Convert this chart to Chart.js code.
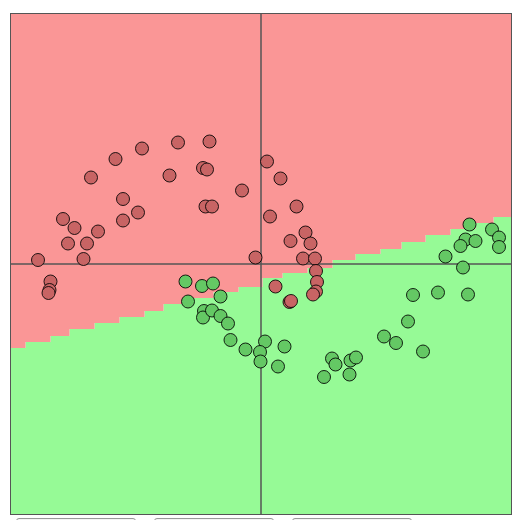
<!DOCTYPE html>
<html lang="en">

<head>
	<meta charset="utf-8">
	<title>2D classification demo</title>
	<script src="https://cdn.jsdelivr.net/npm/chart.js@4.4.1/dist/chart.umd.min.js"></script>
	<style>
		html,
		body {
			margin: 0;
			background: #fff;
		}

		#box {
			position: absolute;
			left: 10px;
			top: 13px;
			width: 500px;
			height: 500px;
			border: 1px solid #555;
		}

		.btn {
			position: absolute;
			top: 518px;
			width: 118px;
			height: 20px;
			border: 1px solid #999;
			border-radius: 3px;
			background: #f4f4f4;
		}
	</style>
</head>

<body>
	<div id="box"><canvas id="netChart"></canvas></div>
	<div class="btn" style="left: 16px;"></div>
	<div class="btn" style="left: 154px;"></div>
	<div class="btn" style="left: 292px;"></div>

	<script>
		// class 0 (red) points
		var redX = [-2.38, -1.66, -1.03, -2.91, -3.40, -1.83, -1.16, -1.08, 0.12, -0.38,
			-2.76, -2.46, -2.76, -1.11, -0.98, -3.96, -3.73, -3.26, -3.86, -3.48,
			-4.46, -3.55, -0.11, 0.18, -4.21, -4.23, -4.25, 0.39, 0.71, 0.89,
			0.59, 0.99, 0.84, 1.08, 1.10, 1.12, 1.10, 1.04, 0.29, 0.57, 0.60]
		var redY = [2.31, 2.43, 2.45, 2.10, 1.73, 1.77, 1.92, 1.89, 2.05, 1.47,
			1.30, 1.03, 0.87, 1.15, 1.15, 0.90, 0.72, 0.65, 0.41, 0.41,
			0.08, 0.10, 0.13, 0.95, -0.35, -0.52, -0.58, 1.71, 1.15, 0.63,
			0.46, 0.41, 0.11, 0.11, -0.14, -0.36, -0.55, -0.61, -0.45, -0.76, -0.74]

		// class 1 (green) points
		var greenX = [4.17, 4.62, 4.76, 4.76, 4.09, 4.29, 3.99, 3.69, 4.04, 3.04,
			3.54, 4.14, -1.51, -1.18, -0.96, -0.81, -1.46, -1.14, -1.16, -0.98,
			-0.81, -0.66, -0.61, -0.31, 0.08, -0.02, -0.01, 0.47, 0.34, 1.42,
			1.49, 1.79, 1.90, 1.77, 1.26, 2.46, 2.70, 2.94, 3.24]
		var greenY = [0.79, 0.69, 0.53, 0.34, 0.49, 0.46, 0.36, 0.15, -0.07, -0.62,
			-0.57, -0.61, -0.35, -0.44, -0.39, -0.65, -0.75, -0.94, -1.07, -0.93,
			-1.04, -1.19, -1.52, -1.71, -1.55, -1.76, -1.95, -1.65, -2.05, -1.89,
			-2.01, -1.93, -1.87, -2.21, -2.26, -1.45, -1.58, -1.15, -1.75]

		// decision boundary (stepped), red above, green below
		var edgeX = [-5, -4.71, -4.21, -3.83, -3.33, -2.83, -2.33, -1.95, -1.45, -0.95,
			-0.45, 0.03, 0.43, 0.93, 1.43, 1.89, 2.39, 2.81, 3.29, 3.79, 4.29, 4.65, 5]
		var edgeY = [-1.68, -1.56, -1.44, -1.30, -1.18, -1.06, -0.94, -0.80, -0.68, -0.56,
			-0.46, -0.28, -0.18, -0.08, 0.08, 0.20, 0.30, 0.44, 0.58, 0.70, 0.82, 0.94, 0.94]

		function pts(xs, ys) {
			var out = []
			for (var i = 0; i < xs.length; i++) {
				out.push({ x: xs[i], y: ys[i] })
			}
			return out
		}

		var edge = pts(edgeX, edgeY)

		var netChart = new Chart("netChart", {
			type: "scatter",
			data: {
				datasets: [
					{
						data: pts(redX, redY),
						backgroundColor: "rgb(200,100,100)",
						borderColor: "rgba(0,0,0,0.85)",
						borderWidth: 1,
						pointRadius: 6.5,
						order: 0
					},
					{
						data: pts(greenX, greenY),
						backgroundColor: "rgb(100,200,100)",
						borderColor: "rgba(0,0,0,0.85)",
						borderWidth: 1,
						pointRadius: 6.5,
						order: 0
					},
					{
						type: "line",
						data: [{ x: -5, y: 0 }, { x: 5, y: 0 }],
						borderColor: "rgb(85,85,85)",
						borderWidth: 1.5,
						pointRadius: 0,
						order: 1
					},
					{
						type: "line",
						data: [{ x: 0, y: -5 }, { x: 0, y: 5 }],
						borderColor: "rgb(85,85,85)",
						borderWidth: 1.5,
						pointRadius: 0,
						order: 1
					},
					{
						type: "line",
						data: edge,
						stepped: true,
						fill: "end",
						backgroundColor: "rgb(250,150,150)",
						borderWidth: 0,
						pointRadius: 0,
						order: 2
					},
					{
						type: "line",
						data: edge,
						stepped: true,
						fill: "start",
						backgroundColor: "rgb(150,250,150)",
						borderWidth: 0,
						pointRadius: 0,
						order: 2
					}
				]
			},
			options: {
				responsive: true,
				maintainAspectRatio: false,
				animation: false,
				layout: { padding: 0, autoPadding: false },
				plugins: {
					legend: { display: false },
					tooltip: { enabled: false }
				},
				scales: {
					x: { type: "linear", min: -5, max: 5, display: false },
					y: { type: "linear", min: -5, max: 5, display: false }
				}
			}
		});
	</script>
</body>

</html>
